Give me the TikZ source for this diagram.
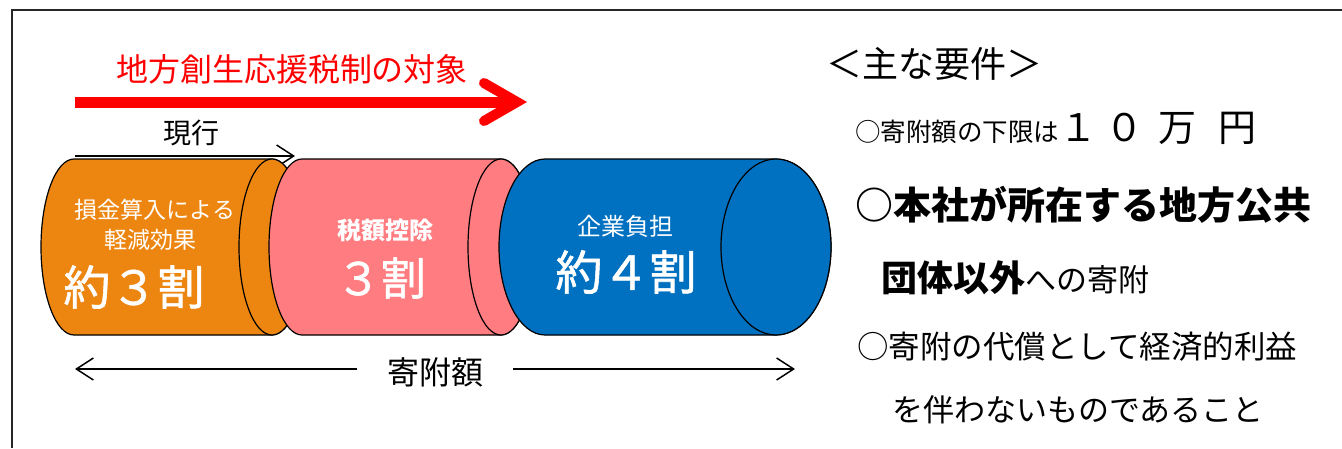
\documentclass[tikz,border=0pt]{standalone}
\usepackage{fontspec}
\setmainfont{Noto Sans CJK JP}
\usetikzlibrary{arrows.meta}
\definecolor{corange}{RGB}{237,134,17}
\definecolor{cpink}{RGB}{255,124,128}
\definecolor{cblue}{RGB}{0,112,192}
\definecolor{cred}{RGB}{255,0,0}
\newcommand{\myfs}[1]{\fontsize{#1}{#1}\selectfont}
\newcommand{\drawcyl}[5]{%
  \fill[#5, draw=black, line width=1.2pt] (#1,159)
    arc[start angle=270, end angle=90, x radius=#3, y radius=88]
    -- (#2,335)
    arc[start angle=90, end angle=-90, x radius=#4, y radius=88] -- cycle;
  \draw[fill=#5, line width=1.2pt] (#2,247) ellipse[x radius=#4, y radius=88];
}
\tikzset{
  txt/.style={inner sep=0pt, outer sep=0pt},
  wtxt/.style={txt, text=white},
  bigw/.style={wtxt, font=\addfontfeature{FakeBold=1.2}\myfs{#1}},
  thinarrow/.style={line width=1.5pt, -{Straight Barb[length=17pt, width=22pt, line width=1.5pt]}},
}
\begin{document}
\begin{tikzpicture}[x=1pt,y=-1pt]
\useasboundingbox (0,0) rectangle (1342,448);
\fill[white] (0,0) rectangle (1342,448);
% frame
\draw[line width=1.6pt, black!85] (12,448) -- (12,10) -- (1342,10);

% red title and arrow
\node[txt, anchor=west, text=cred, font=\myfs{32}] (title) at (116,69) {地方創生応援税制の対象};
\coordinate (ra) at (75,102);
\coordinate (rb) at (512,102);
\coordinate (rt) at (517,102);
\draw[cred, line width=11pt] (ra) -- (rb);
\draw[cred, line width=10pt, line cap=round, line join=miter] (484,83) -- (rt) -- (484,121);

% current arrow
\node[txt, font=\myfs{28}] (genko) at (191,133) {現行};
\coordinate (ga) at (75,156);
\coordinate (gb) at (295,156);
\draw[thinarrow] (ga) -- (gb);

% cylinders
\drawcyl{74}{272}{33}{33}{corange}
\drawcyl{302}{501}{33}{33}{cpink}
\drawcyl{545}{776}{46}{55}{cblue}

% cylinder texts
\node[wtxt, font=\myfs{23}] (o1) at (155,210) {損金算入による};
\node[wtxt, font=\myfs{23}] (o2) at (150,240) {軽減効果};
\node[bigw=47] (o3) at (134,287) {約３割};
\node[wtxt, font=\bfseries\myfs{24}] (p1) at (385,230) {税額控除};
\node[bigw=45] (p2) at (381,278) {３割};
\node[wtxt, font=\myfs{24}] (b1) at (625,226) {企業負担};
\node[bigw=47] (b2) at (626,272) {約４割};

% bottom arrows
\node[txt, font=\myfs{32}] (kifu) at (435.5,372) {寄附額};
\coordinate (la) at (357,369);
\coordinate (lb) at (75,369);
\coordinate (rra) at (513,369);
\coordinate (rrb) at (795,369);
\draw[thinarrow] (la) -- (lb);
\draw[thinarrow] (rra) -- (rrb);

% right column
\node[txt, anchor=west, font=\myfs{36}] (req) at (826,64) {＜主な要件＞};
\node[txt, anchor=base west] (l2) at (855,141) {\myfs{25.5}○寄附額の下限は\myfs{38}１\hspace{9pt}０\hspace{15pt}万\hspace{22pt}円};
\node[txt, anchor=west, font=\bfseries\myfs{38}] (l3) at (855,205) {○本社が所在する地方公共};
\node[txt, anchor=base west] (l4) at (881,291) {{\bfseries\myfs{36}団体以外}{\myfs{31}への寄附}};
\node[txt, anchor=west, font=\myfs{31.5}] (l5) at (857,347) {○寄附の代償として経済的利益};
\node[txt, anchor=west, font=\myfs{31}] (l6) at (892,410) {を伴わないものであること};
\end{tikzpicture}
\end{document}
